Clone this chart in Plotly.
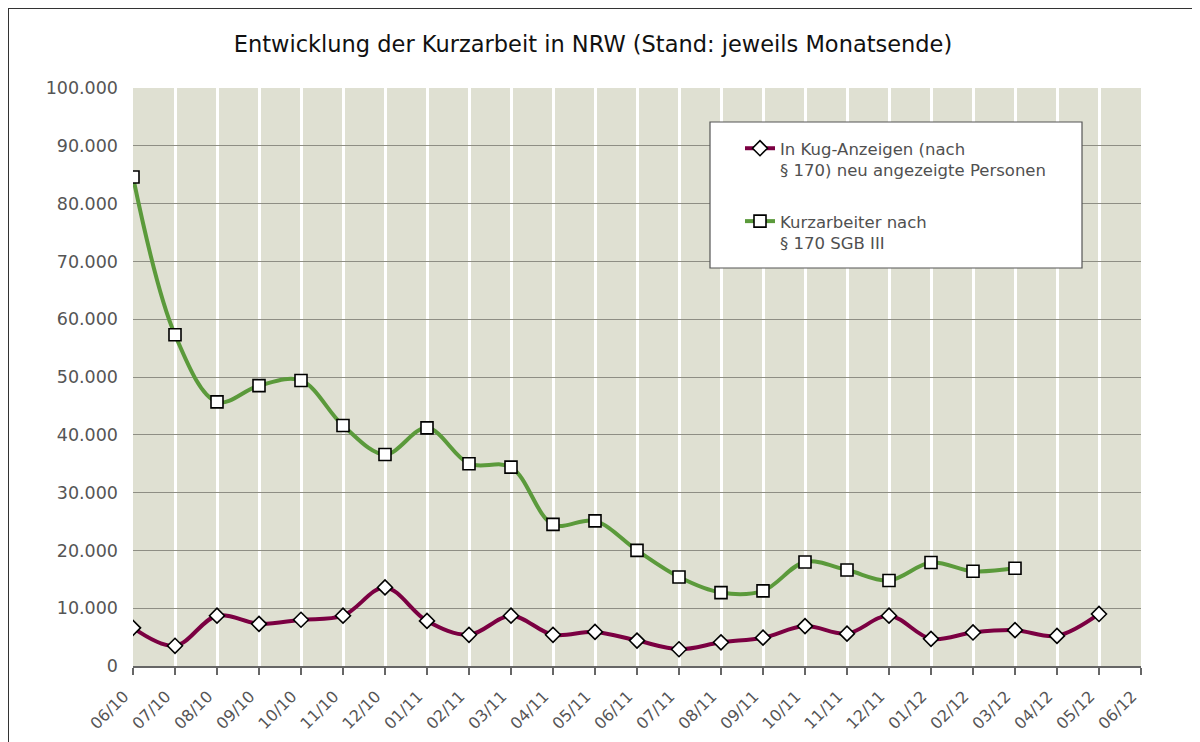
import plotly.graph_objects as go

months = ["06/10", "07/10", "08/10", "09/10", "10/10", "11/10", "12/10",
          "01/11", "02/11", "03/11", "04/11", "05/11", "06/11", "07/11",
          "08/11", "09/11", "10/11", "11/11", "12/11", "01/12", "02/12",
          "03/12", "04/12", "05/12", "06/12"]

# In Kug-Anzeigen (nach § 170) neu angezeigte Personen
anzeigen = [6600, 3500, 8700, 7300, 8000, 8700, 13600, 7800, 5400, 8700,
            5400, 5900, 4400, 2900, 4100, 4900, 6900, 5600, 8700, 4700,
            5800, 6200, 5200, 9000]

# Kurzarbeiter nach § 170 SGB III
kurzarbeiter = [84600, 57300, 45700, 48500, 49400, 41600, 36600, 41200,
                35000, 34400, 24500, 25100, 20000, 15400, 12700, 13000,
                18000, 16600, 14800, 17900, 16400, 16900]

name_a = "In Kug-Anzeigen (nach<br>§ 170) neu angezeigte Personen"
name_k = "Kurzarbeiter nach<br>§ 170 SGB III"

FONT = "DejaVu Sans"
W, H = 1200, 742
OFF = 8  # page body margin
# target plot area in screen pixels
PL, PR, PT, PB = 133, 1141, 88, 666
ML, MT = PL - OFF, PT - OFF
MR, MB = W + OFF - PR, H + OFF - PB
PW, PH = PR - PL, PB - PT


def px_x(x):
    return (x - PL) / PW


def px_y(y):
    return (PB - y) / PH


fig = go.Figure()
fig.add_trace(go.Scatter(
    x=months[:len(anzeigen)], y=anzeigen, name=name_a, mode="lines+markers",
    line=dict(color="#7B0042", width=4, shape="spline"),
    marker=dict(symbol="diamond", size=11.5, color="white",
                line=dict(color="black", width=1.6)),
    legendgroup="a",
))
fig.add_trace(go.Scatter(
    x=months[:len(kurzarbeiter)], y=kurzarbeiter, name=name_k, mode="lines+markers",
    line=dict(color="#5B9A3B", width=4, shape="spline"),
    marker=dict(symbol="square", size=12, color="white",
                line=dict(color="black", width=1.6)),
    legendgroup="k",
))

shapes = [
    # outer frame
    dict(type="rect", xref="paper", yref="paper",
         x0=px_x(8), x1=px_x(1197), y0=px_y(770), y1=px_y(8),
         line=dict(color="#333333", width=2), fillcolor="rgba(0,0,0,0)",
         layer="below"),
    # legend box
    dict(type="rect", xref="paper", yref="paper",
         x0=px_x(710), x1=px_x(1082), y0=px_y(268), y1=px_y(122),
         line=dict(color="#555555", width=1.2), fillcolor="white",
         layer="above"),
]

fig.update_layout(
    width=W, height=H,
    margin=dict(l=ML, r=MR, t=MT, b=MB, autoexpand=False),
    paper_bgcolor="white",
    plot_bgcolor="#DFE0D2",
    separators=",.",
    font=dict(family=FONT, color="#555555", size=16),
    title=dict(text="Entwicklung der Kurzarbeit in NRW (Stand: jeweils Monatsende)",
               x=(593 - OFF) / W, xanchor="center", y=1 - (44 - OFF) / H,
               yanchor="middle",
               font=dict(family=FONT, size=22.5, color="#111111")),
    showlegend=True,
    legend=dict(x=px_x(740), xanchor="left", y=px_y(131), yanchor="top",
                bgcolor="rgba(0,0,0,0)", borderwidth=0,
                font=dict(family=FONT, size=16.5, color="#505050"),
                traceorder="grouped", tracegroupgap=27, valign="top"),
    shapes=shapes,
)

fig.update_xaxes(
    type="category", categoryorder="array", categoryarray=months,
    range=[0, len(months) - 1],
    showgrid=True, gridcolor="white", gridwidth=3,
    showline=True, linecolor="#666666", linewidth=1.5,
    ticks="outside", ticklen=7, tickcolor="#666666", tickwidth=1.5,
    tickangle=-45, ticklabelstandoff=6, ticklabelshift=-9,
    tickfont=dict(family=FONT, size=16, color="#555555"),
    zeroline=False, automargin=False,
)
fig.update_yaxes(
    range=[0, 100000], dtick=10000, tickformat=",d",
    showgrid=True, gridcolor="#8E8E84", gridwidth=1,
    showline=False, zeroline=False, ticks="",
    ticklabelstandoff=14, automargin=False,
    tickfont=dict(family=FONT, size=17.5, color="#555555"),
)

fig.write_html("out.html")
